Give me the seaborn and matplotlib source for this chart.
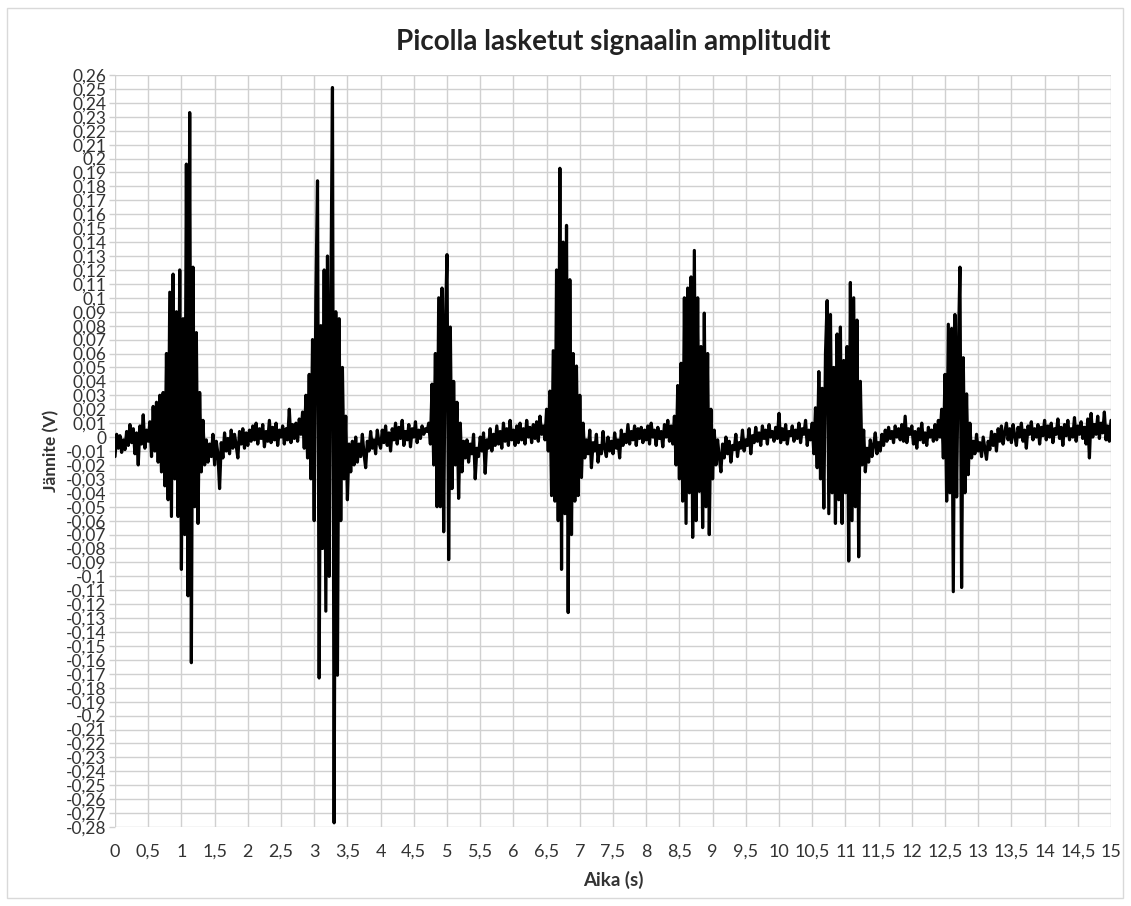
import numpy as np
import pandas as pd
import matplotlib
matplotlib.use("Agg")
import matplotlib.pyplot as plt
import matplotlib.ticker as mticker
from matplotlib.patches import Rectangle
import seaborn as sns

# Signal samples, in millivolts, 40 samples per second
DT = 0.025
sec0 = [-14, 2, -8, 1, -11, -2, -9, 4, -6, 9,
        -4, 6, -12, 3, -20, 8, -5, 16, -8, 5,
        -3, 11, -14, 22, -10, 25, -18, 30, -25, 32,
        -35, 60, -45, 104, -57, 117, -30, 90, -57, 120]
sec1 = [-95, 85, -70, 196, -114, 233, -162, 122, -50, 75,
        -62, 32, -25, 12, -20, -2, -18, -5, -14, 2,
        -20, -3, -12, -37, -4, -15, 3, -10, -1, -12,
        5, -8, 2, -6, -15, 4, -5, 6, -8, 3]
sec2 = [-6, 5, -3, 8, -2, 10, -5, 6, -1, 9,
        -7, 4, -3, 12, -4, 7, -2, 10, -6, 5,
        0, 8, -5, 6, -2, 20, -4, 9, -1, 10,
        -3, 13, 2, 18, -8, 30, -15, 45, -30, 70]
sec3 = [-60, 100, 184, -173, 80, -80, 120, -125, 130, -100,
        95, 251, -277, 90, -171, 85, -60, 50, -30, 15,
        -45, -5, -25, -3, -20, 0, -18, -5, -14, 2,
        -12, -22, -3, -10, 4, -8, -2, -12, 5, -4]
sec4 = [-8, 5, -4, 8, -6, 3, -10, 6, -2, 10,
        -5, 7, -1, 12, -6, 4, -2, 9, -7, 6,
        0, 11, -4, 5, -1, 8, 2, 6, 4, 10,
        -5, 38, -20, 60, -50, 100, -50, 107, -68, 80]
sec5 = [131, -88, 79, -37, 40, -20, 25, -44, 10, -25,
        -3, -15, -2, -18, -5, -12, 2, -30, -8, -14,
        0, -10, 3, -26, -2, -8, 6, -10, 2, -6,
        8, -5, 4, -8, 10, -3, 6, -6, 12, -2]
sec6 = [5, -6, 8, -4, 10, -2, 6, -5, 12, 0,
        7, -4, 9, -1, 11, -3, 15, 2, 8, -2,
        20, -10, 33, -42, 62, -46, 120, -60, 193, -95,
        140, -55, 152, -126, 113, -70, 60, -46, 51, -42]
sec7 = [30, -29, 10, -15, -2, -12, 5, -22, -4, -10,
        2, -18, -6, -12, 4, -8, -14, 0, -10, -3,
        -12, 3, -8, -2, -15, 5, -6, 2, -4, 9,
        -5, 4, -2, 8, -6, 6, -1, 7, -4, 5]
sec8 = [-2, 8, -5, 10, 0, 5, -6, 7, -1, 4,
        -7, 9, 0, 12, -3, 8, -5, 15, -20, 37,
        -30, 53, -46, 100, -62, 107, -40, 115, -72, 134,
        -60, 100, -39, 65, -65, 89, -50, 60, -70, 20]
sec9 = [-30, 5, -20, -2, -14, -25, -5, -15, 0, -12,
        -3, -18, -6, -9, 2, -14, -4, -8, 5, -10,
        -2, -6, 6, -12, 1, -4, 7, -3, 3, -6,
        8, -1, 5, -5, 9, 0, 4, -3, 7, -1]
sec10 = [17, -4, 6, -2, 9, -5, 4, 1, 8, -3,
         5, -1, 10, -4, 6, 2, 12, -6, 5, -2,
         10, -12, 21, -22, 47, -30, 35, -51, 60, 98,
         -55, 88, -40, 50, -62, 74, -45, 79, -62, 55]
sec11 = [-40, 65, -89, 111, -60, 100, -50, 84, -86, 40,
         -20, 5, -25, -8, -18, -2, -14, -6, 3, -12,
         -4, -10, 2, -6, 5, -3, 7, -1, 4, -4,
         8, 0, 6, -2, 9, -3, 15, -4, 6, 2]
sec12 = [8, -5, 4, -8, 6, -2, 10, -4, 3, -6,
         7, 0, 5, -3, 9, -2, 12, 0, 20, -15,
         45, -46, 81, -40, 78, -111, 88, -43, 60, 122,
         -108, 57, -40, 31, -27, 10, -15, -3, -12, 2]
sec13 = [-10, -4, -14, 0, -8, -16, -3, -9, 4, -6,
         2, -10, 6, -3, 8, -5, 3, 10, -2, 6,
         -4, 9, 1, -6, 7, 0, 10, -3, 5, -8,
         8, 2, 11, -2, 6, 0, 9, -5, 7, 1]
sec14 = [12, -2, 8, 0, 10, -4, 6, 2, 13, -1,
         7, -6, 9, 1, 12, -2, 6, 0, 14, -3,
         8, 2, 11, -1, 7, -5, 13, -15, 17, 0,
         9, 2, 15, -1, 10, 3, 18, -2, 8, -3, 12]

seconds = [sec0, sec1, sec2, sec3, sec4, sec5, sec6, sec7,
           sec8, sec9, sec10, sec11, sec12, sec13, sec14]

TITLE = "Picolla lasketut signaalin amplitudit"
XLABEL = "Aika (s)"
YLABEL = "Jännite (V)"

times, volts = [], []
for s, lst in enumerate(seconds):
    for i, mv in enumerate(lst):
        times.append(s + i * DT)
        volts.append(mv / 1000.0)
df = pd.DataFrame({"Aika": times, "Jannite": volts})

sns.set_theme(style="white")
plt.rcParams['font.family'] = ['Lato', 'DejaVu Sans']

fig = plt.figure(figsize=(11.31, 9.06), dpi=100)
ax = fig.add_axes([115 / 1131, 1 - 827 / 906, (1111 - 115) / 1131, (827 - 75) / 906])

sns.lineplot(data=df, x="Aika", y="Jannite", color="black", linewidth=2.3,
             estimator=None, sort=False, ax=ax, zorder=3)

ax.set_xlim(0, 15)
ax.set_ylim(-0.28, 0.26)
ax.xaxis.set_major_locator(mticker.MultipleLocator(0.5))
ax.yaxis.set_major_locator(mticker.MultipleLocator(0.01))


def fmt(v, pos):
    v = round(v, 3)
    if abs(v) < 1e-9:
        return "0"
    return f"{v:g}".replace(".", ",")


ax.xaxis.set_major_formatter(mticker.FuncFormatter(fmt))
ax.yaxis.set_major_formatter(mticker.FuncFormatter(fmt))

ax.grid(True, color="#d0d0d0", linewidth=1.0, zorder=0)
for sp in ax.spines.values():
    sp.set_visible(False)
ax.tick_params(axis="y", length=4, color="#d0d0d0", width=1.0, pad=2,
               labelsize=12.5, labelcolor="#333333", left=True)
ax.tick_params(axis="x", length=0, pad=12, labelsize=13, labelcolor="#333333")

ax.set_xlabel(XLABEL, fontsize=13.5, fontweight="bold", color="#333333", labelpad=8)
ax.set_ylabel(YLABEL, fontsize=12.5, fontweight="bold", color="#333333", labelpad=5)
fig.text(0.5418, 1 - 42 / 906, TITLE, ha="center", va="center",
         fontsize=20, fontweight="bold", color="#222222")

fig.patches.append(Rectangle((7 / 1131, 1 - 898 / 906), (1123 - 7) / 1131, (898 - 8) / 906,
                             transform=fig.transFigure, fill=False,
                             edgecolor="#d9d9d9", linewidth=1.0))

fig.savefig("out.png", dpi=100)
